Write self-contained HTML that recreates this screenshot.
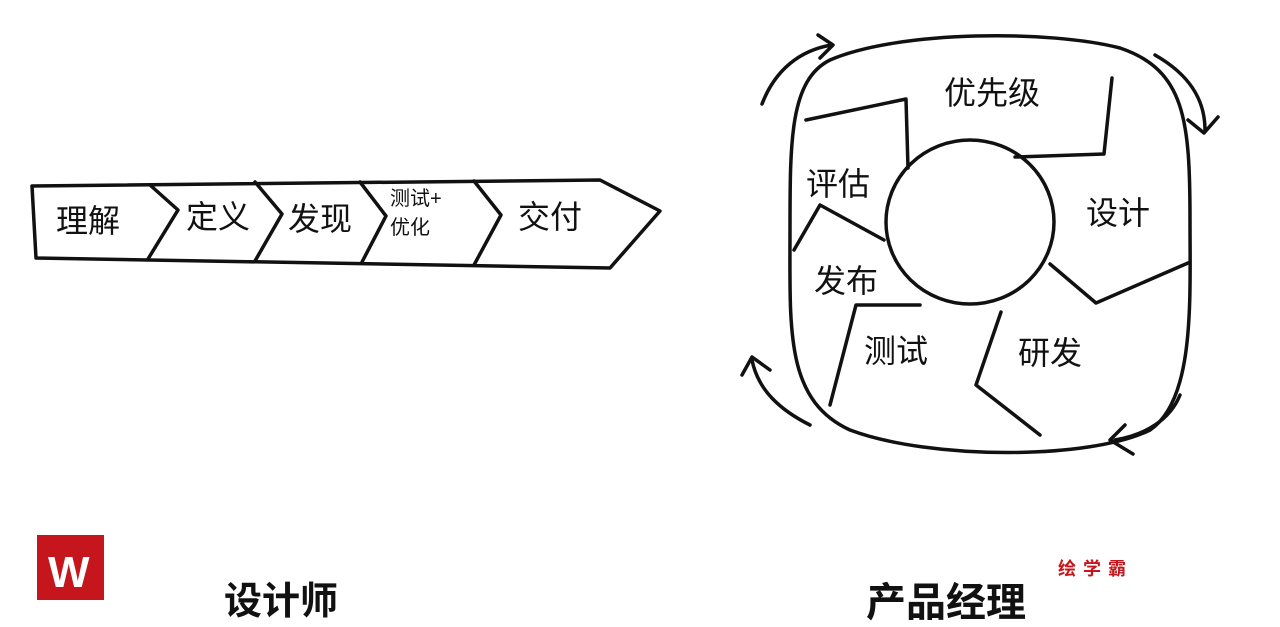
<!DOCTYPE html>
<html><head><meta charset="utf-8"><style>
html,body{margin:0;padding:0;background:#fff;width:1280px;height:627px;overflow:hidden}
svg{display:block}
text{font-family:"Liberation Sans","Noto Sans CJK SC",sans-serif;fill:#111}
</style></head><body>
<svg width="1280" height="627" viewBox="0 0 1280 627" xmlns="http://www.w3.org/2000/svg">
<g fill="none" stroke="#111" stroke-width="3.5" stroke-linecap="round" stroke-linejoin="round">
<path d="M32 186 L600 180 L660 211 L610 268 L36 258 Z"/>
<path d="M150 185 L178 210 L148 259"/>
<path d="M255 182 L282 214 L255 261"/>
<path d="M360 182 L386 216 L362 262"/>
<path d="M474 181 L501 215 L474 265"/>
<path d="M830 60 C790 80 790 140 790 230 C790 330 785 400 850 430 C930 460 1090 460 1150 430 C1195 400 1190 300 1190 220 C1190 120 1185 70 1120 48 C1050 30 900 30 830 60 Z"/>
<ellipse cx="970" cy="222" rx="84" ry="82"/>
<polyline points="806,120 906,99 908,168"/>
<polyline points="1015,157 1104,154 1112,78"/>
<polyline points="1050,264 1096,303 1188,263"/>
<polyline points="1001,312 976,385 1040,435"/>
<polyline points="920,305 856,305 830,405"/>
<polyline points="884,240 820,205 794,250"/>
<path d="M762 104 C775 70 800 50 832 45"/>
<path d="M818 35 L833 45 L820 58"/>
<path d="M1155 55 C1190 75 1205 100 1205 130"/>
<path d="M1188 120 L1204 133 L1218 117"/>
<path d="M1180 395 C1170 420 1145 435 1115 440"/>
<path d="M1125 425 L1110 440 L1133 454"/>
<path d="M810 425 C780 410 758 390 752 360"/>
<path d="M742 375 L752 357 L770 370"/>
</g>
<g font-size="32">
<text x="56" y="232">理解</text>
<text x="186" y="228">定义</text>
<text x="288" y="230">发现</text>
<text x="518" y="228">交付</text>
<text x="944" y="104">优先级</text>
<text x="1086" y="224">设计</text>
<text x="1018" y="364">研发</text>
<text x="864" y="362">测试</text>
<text x="814" y="292">发布</text>
<text x="806" y="195">评估</text>
</g>
<text x="390" y="205" font-size="20">测试+</text>
<text x="390" y="234" font-size="20">优化</text>
<rect x="37" y="535" width="67" height="65" fill="#c4161c"/>
<text x="48" y="587" font-size="44" font-weight="bold" style="fill:#fff">W</text>
<text x="224" y="614" font-size="38" font-weight="bold">设计师</text>
<text x="866" y="616" font-size="40" font-weight="bold">产品经理</text>
<text x="1058" y="575" font-size="18" font-weight="bold" letter-spacing="7" style="fill:#c4161c">绘学霸</text>
</svg>
</body></html>
